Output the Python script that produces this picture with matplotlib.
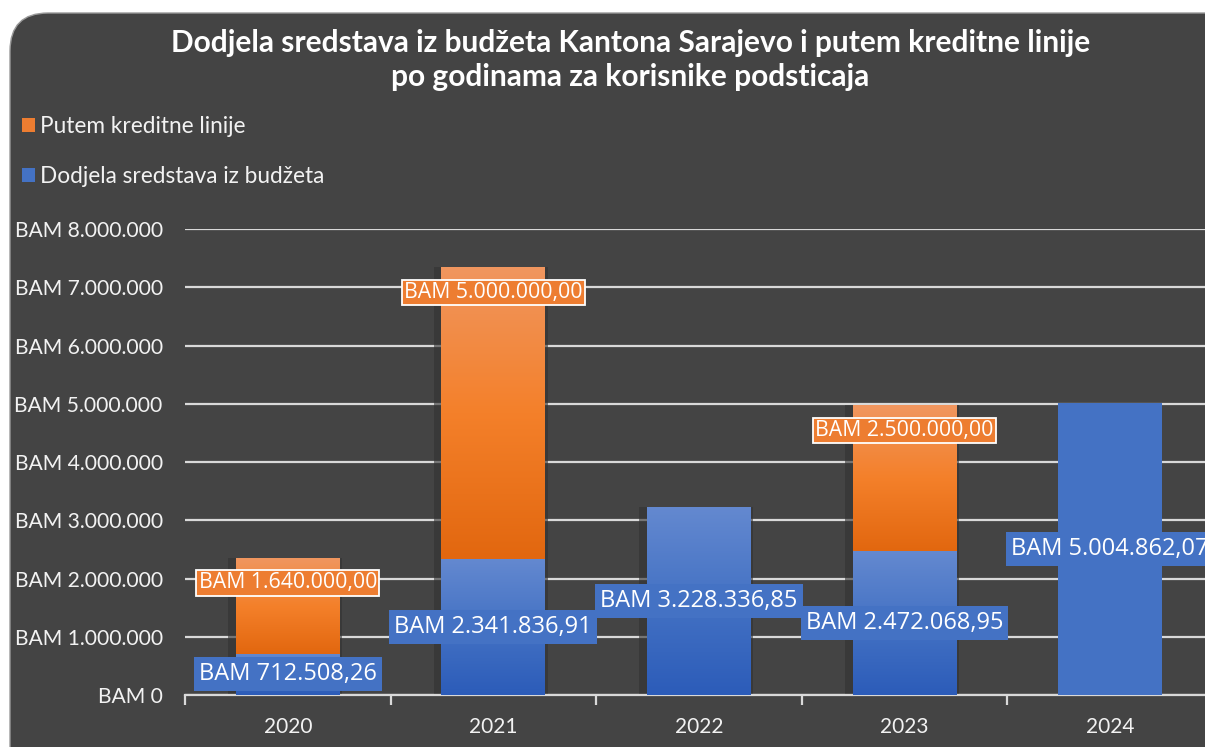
import numpy as np
import matplotlib
matplotlib.use('Agg')
import matplotlib.pyplot as plt
from matplotlib.colors import LinearSegmentedColormap
from matplotlib.patches import FancyBboxPatch, Patch
from matplotlib.transforms import IdentityTransform

# podaci
godine = ['2020', '2021', '2022', '2023', '2024']
budzet = [712508.26, 2341836.91, 3228336.85, 2472068.95, 5004862.07]
kredit = [1640000.00, 5000000.00, 0.0, 2500000.00, 0.0]
y_ticks = [0, 1000000, 2000000, 3000000, 4000000, 5000000, 6000000, 7000000, 8000000]

naslov = ('Dodjela sredstava iz budžeta Kantona Sarajevo i putem kreditne linije\n'
          'po godinama za korisnike podsticaja')
leg_kredit = 'Putem kreditne linije'
leg_budzet = 'Dodjela sredstava iz budžeta'

BG = '#444444'
BLUE = '#4472C4'
ORANGE = '#ED7D31'
GRID = '#D9D9D9'
TXT = '#F2F2F2'
gradient = [True, True, True, True, False]


def bam(v, dec=2):
    s = f'{v:,.{dec}f}'
    s = s.replace(',', 'X').replace('.', ',').replace('X', '.')
    return 'BAM ' + s


plt.rcParams['font.family'] = ['Lato', 'DejaVu Sans']

fig = plt.figure(figsize=(12.05, 7.47), dpi=100, facecolor='white')

# zaobljena pozadina
panel = FancyBboxPatch((10, -60), 1300, 747 - 13 + 60,
                       boxstyle='round,pad=0,rounding_size=38',
                       facecolor=BG, edgecolor='#9a9a9a', linewidth=1.0,
                       transform=IdentityTransform(), zorder=0)
fig.add_artist(panel)

ax = fig.add_axes([0.1535, 0.0696, 0.853, 0.6238])
ax.set_facecolor('none')
x = np.arange(len(godine))
w = 0.505

cmap_b = LinearSegmentedColormap.from_list('b', ['#2C5CB9', '#4472C4', '#6489D0'])
cmap_o = LinearSegmentedColormap.from_list('o', ['#E2670F', '#F4802A', '#F0965F'])
grad = np.linspace(0, 1, 256).reshape(-1, 1)

# sjena
for i in range(len(godine)):
    if gradient[i]:
        ax.bar(x[i] - 0.012, budzet[i] + kredit[i], w + 0.05, color='#333333',
               alpha=0.6, zorder=2, linewidth=0)

bb = ax.bar(x, budzet, w, color=BLUE, zorder=3, linewidth=0, label=leg_budzet)
bo = ax.bar(x, kredit, w, bottom=budzet, color=ORANGE, zorder=3, linewidth=0,
            label=leg_kredit)

for i in range(len(godine)):
    if not gradient[i]:
        continue
    for p, cm in ((bb[i], cmap_b), (bo[i], cmap_o)):
        if p.get_height() <= 0:
            continue
        x0, y0 = p.get_x(), p.get_y()
        im = ax.imshow(grad, cmap=cm, origin='lower', aspect='auto',
                       extent=[x0, x0 + p.get_width(), y0, y0 + p.get_height()],
                       zorder=3.5, interpolation='bilinear')
        im.set_clip_path(p)

# oznake
for i in range(len(godine)):
    ax.annotate(bam(budzet[i]), (x[i], budzet[i] / 2), ha='center', va='center',
                fontsize=17, color='white', family=['Open Sans', 'DejaVu Sans'],
                bbox=dict(boxstyle='square,pad=0.22', fc=BLUE, ec='none'), zorder=6)
    if kredit[i] > 0:
        ax.annotate(bam(kredit[i]), (x[i], budzet[i] + kredit[i]),
                    xytext=(0, -18), textcoords='offset points',
                    ha='center', va='center', fontsize=15.3, color='white',
                    family=['Open Sans', 'DejaVu Sans'],
                    bbox=dict(boxstyle='square,pad=0.1', fc='#ED7D31', ec='white', lw=1.3),
                    zorder=6)

ax.set_xlim(-0.5, 4.5)
ax.set_ylim(0, 8000000)
ax.set_yticks(y_ticks)
ax.set_yticklabels([bam(v, 0) for v in y_ticks])
ax.yaxis.grid(True, color=GRID, linewidth=1.6, zorder=1)
ax.set_axisbelow(True)
ax.tick_params(axis='y', length=0, pad=16, labelsize=15.2, labelcolor=TXT)

ax.set_xticks(x)
ax.set_xticklabels(godine)
ax.set_xticks(np.arange(-0.5, 5, 1), minor=True)
ax.tick_params(axis='x', which='major', length=0, pad=16, labelsize=15, labelcolor=TXT)
ax.tick_params(axis='x', which='minor', length=7, width=1.6, color=GRID)

for s in ('top', 'right', 'left'):
    ax.spines[s].set_visible(False)
ax.spines['bottom'].set_color(GRID)
ax.spines['bottom'].set_linewidth(1.6)

fig.text(0.523, 0.9197, naslov, ha='center', va='center', fontsize=21.5,
         fontweight='bold', color='white', linespacing=1.28)

handles = [Patch(facecolor=ORANGE), Patch(facecolor=BLUE)]
fig.legend(handles, [leg_kredit, leg_budzet], loc='upper left',
           bbox_to_anchor=(0.018, 0.845), frameon=False, fontsize=16.3,
           labelcolor=TXT, handlelength=0.6, handleheight=0.6,
           handletextpad=0.2, labelspacing=1.3, borderpad=0, borderaxespad=0)

fig.savefig('out.png', dpi=100, facecolor='white')
